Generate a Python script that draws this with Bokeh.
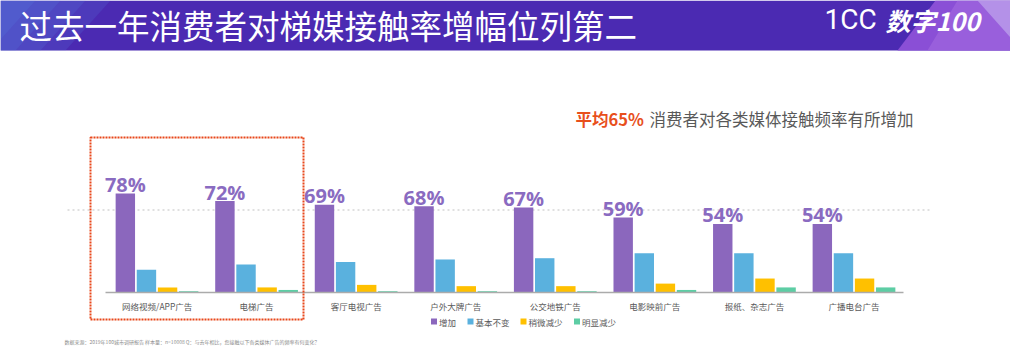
from bokeh.plotting import figure
from bokeh.models import FactorRange, Range1d, ColumnDataSource
from bokeh.transform import dodge
from bokeh.core.properties import value
from bokeh.embed import file_html
from bokeh.resources import INLINE

# ---------------- data ----------------
categories = ["网络视频/APP广告", "电梯广告", "客厅电视广告", "户外大牌广告",
              "公交地铁广告", "电影映前广告", "报纸、杂志广告", "广播电台广告"]
increase = [78, 72, 69, 68, 67, 59, 54, 54]
unchanged = [18, 22, 24, 26, 27, 31, 31, 31]
slight_down = [4, 4, 6, 5, 5, 7, 11, 11]
sharp_down = [1, 2, 1, 1, 1, 2, 4, 4]
series_names = ["增加", "基本不变", "稍微减少", "明显减少"]
series_colors = ["#8B67BD", "#5AB1DE", "#FFC000", "#5DCDA4"]
average = 65
title_text = "过去一年消费者对梯媒接触率增幅位列第二"
subtitle_hi = "平均65%"
subtitle_rest = "消费者对各类媒体接触频率有所增加"
footnote = "数据来源：2019年100城市调研报告    样本量：n=10008    Q：与去年相比，您接触以下各类媒体广告的频率有何变化？"

CJK = value("Noto Sans CJK SC")

W, H = 1010, 347
scale = 1.27  # px per percent
y0 = -55 / scale
y1 = y0 + H / scale
unit = 99.57
pad = (W / unit - 8) / 2


def sx(X):
    """page-pixel x -> synthetic categorical coordinate"""
    if isinstance(X, (list, tuple)):
        return [sx(v) for v in X]
    return (X - 8) / unit - pad


p = figure(width=W, height=H,
           x_range=FactorRange(*categories, range_padding=pad, range_padding_units="absolute"),
           y_range=Range1d(y0, y1),
           output_backend="svg", toolbar_location=None, min_border=0,
           x_axis_location=None, y_axis_location=None,
           outline_line_color=None, background_fill_color="white")
p.xgrid.visible = False
p.ygrid.visible = False
p.extra_y_ranges = {"py": Range1d(8 + H, 8)}
PY = dict(y_range_name="py")

# ---------------- header ----------------
p.quad(left=[sx(8)], right=[sx(1018)], top=[8], bottom=[58], fill_color="#4B2AB2",
       line_color=None, **PY)
for i in range(4):
    w = 110 - i * 25
    p.patch(x=sx([8, 8 + w, 8 + w - 45, 8]), y=[8, 8, 58, 58], fill_color="#5A86E6",
            fill_alpha=0.18, line_color=None, **PY)
p.patch(x=sx([943, 1018, 1018, 905]), y=[8, 8, 58, 58], fill_color="#8A4FD6", line_color=None, **PY)
p.patch(x=sx([965, 1018, 1018, 935]), y=[8, 8, 58, 58], fill_color="#A46BE0", fill_alpha=0.6,
        line_color=None, **PY)
p.patch(x=sx([985, 1018, 1018]), y=[8, 8, 45], fill_color="#BFA6EC", fill_alpha=0.7,
        line_color=None, **PY)

p.text(x=[sx(27)], y=[32], text=[title_text], text_color="white", text_font=CJK,
       text_font_size="32.5px", text_baseline="middle", text_align="left", **PY)
p.text(x=[sx(832)], y=[27], text=["1CC"], text_color="white", text_font=value("Roboto"),
       text_font_size="28px", text_baseline="middle", text_align="left", **PY)
p.text(x=[sx(893)], y=[27], text=["数字100"], text_color="white", text_font=CJK,
       text_font_size="25px", text_font_style="bold italic", text_baseline="middle",
       text_align="left", **PY)

# ---------------- subtitle ----------------
p.text(x=[sx(583)], y=[126], text=[subtitle_hi], text_color="#E84F1C", text_font=CJK,
       text_font_size="16.5px", text_font_style="bold", text_baseline="middle", **PY)
p.text(x=[sx(657)], y=[126], text=[subtitle_rest], text_color="#595959", text_font=CJK,
       text_font_size="16.5px", text_baseline="middle", **PY)

# ---------------- average line ----------------
p.segment(x0=[sx(75)], x1=[sx(940)], y0=[average], y1=[average], line_color="#D6D6D6",
          line_width=1.5, line_dash="2 3")

# ---------------- bars ----------------
src = ColumnDataSource(dict(cat=categories, inc=increase, unc=unchanged,
                            sld=slight_down, shd=sharp_down,
                            lab=[f"{v}%" for v in increase]))
offsets = [-0.318, -0.106, 0.106, 0.318]
cols = ["inc", "unc", "sld", "shd"]
for off, c, col in zip(offsets, cols, series_colors):
    p.vbar(x=dodge("cat", off, range=p.x_range), top=c, bottom=0, width=0.195,
           source=src, fill_color=col, line_color=None)

p.text(x=dodge("cat", offsets[0], range=p.x_range), y="inc", text="lab", source=src,
       text_color="#8A6BC1", text_font=value("Open Sans"), text_font_style="bold",
       text_font_size="20px", text_align="center", text_baseline="alphabetic", y_offset=-9)

# baseline
p.segment(x0=[sx(113)], x1=[sx(911)], y0=[0], y1=[0], line_color="#ABABAB", line_width=1.5)

# category labels
p.text(x="cat", y=-13 / scale, text="cat", source=src, text_color="#595959",
       text_font=CJK, text_font_size="8.5px", text_align="center", text_baseline="middle")

# ---------------- legend ----------------
leg_x = [441.5, 478, 531, 584.5]
p.scatter(x=sx(leg_x), y=[329] * 4, marker="square", size=6, fill_color=series_colors,
          line_color=None, **PY)
p.text(x=sx([x + 5 for x in leg_x]), y=[329] * 4, text=series_names, text_color="#595959",
       text_font=CJK, text_font_size="8.5px", text_baseline="middle", **PY)

# ---------------- highlight box ----------------
p.quad(left=[sx(98)], right=[sx(311)], top=[145], bottom=[327], fill_color=None,
       line_color="#E8471B", line_width=2, line_dash="2 1", **PY)

# ---------------- footnote ----------------
p.text(x=[sx(72)], y=[349], text=[footnote], text_color="#8C8C8C", text_font=CJK,
       text_font_size="5px", text_baseline="middle", **PY)

open("out.html", "w").write(file_html(p, INLINE))
